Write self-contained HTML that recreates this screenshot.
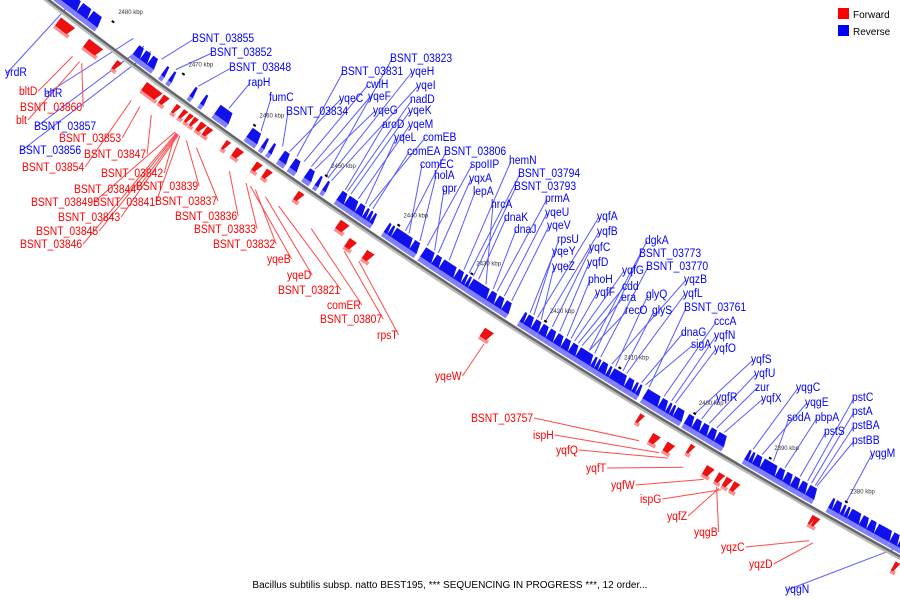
<!DOCTYPE html>
<html><head><meta charset="utf-8"><style>
html,body{margin:0;padding:0;background:#fff;width:900px;height:600px;overflow:hidden}
svg{display:block;font-family:"Liberation Sans","DejaVu Sans",sans-serif}
</style></head><body>
<svg id="map" width="900" height="600" viewBox="0 0 900 600" xmlns="http://www.w3.org/2000/svg">
<g id="lines"></g>
<g id="backbone"></g>
<g id="genes"></g>
<g id="ticks"></g>
<g id="labels"></g>
<g>
<rect x="838" y="8" width="11" height="11" fill="#ff0000"/>
<text x="853" y="18" font-size="10" fill="#000">Forward</text>
<rect x="838" y="25" width="11" height="11" fill="#0000ff"/>
<text x="853" y="35" font-size="10" fill="#000">Reverse</text>
</g>
<text x="450" y="588" font-size="10" text-anchor="middle" fill="#000">Bacillus subtilis subsp. natto BEST195, *** SEQUENCING IN PROGRESS ***, 12 order...</text>
</svg>
<script>
// ---- data ----
const tickKbp = [2480,2470,2460,2450,2440,2430,2420,2410,2400,2390,2380];
const blueStart = [2487,2484,2482.5,2476,2475,2474,2472,2471,2468,2466.5,2464.5,2460,2458,2457,2455.5,2454,2452,2450.5,2449.5,2447.5,2446.5,2445,2444,2443.5,2443,2441,2440.5,2440,2437.5,2436,2434.5,2433.5,2431.5,2430.5,2430,2429.5,2427,2426,2425,2422.5,2422,2421,2420,2419,2418,2417,2416,2415,2413,2412.5,2412,2411,2410.5,2408.5,2407.5,2407,2406,2404,2403,2402.5,2402,2400.5,2399.5,2398.5,2397.5,2396.5,2392.5,2392,2391.5,2390.5,2388.5,2387.5,2386.5,2385.5,2384.5,2381.5,2381,2380,2379.5,2379,2377.5,2376.5,2375.5,2373.5,2372.5];
const blueEnd   = [2484,2482.5,2481,2475,2474,2473,2471.5,2470.5,2467.5,2466,2462.5,2458.5,2457.5,2456.5,2454.5,2453,2451,2450,2449,2446.5,2445,2444,2443.5,2443,2442.5,2440.5,2440,2437.5,2436.5,2434.5,2433.5,2431.5,2430.5,2430,2429.5,2427,2426,2425,2424,2422,2421,2420,2419,2418,2417,2416,2415,2413,2412.5,2412,2411,2410.5,2408.5,2407.5,2407,2406.5,2404,2403,2402.5,2402,2400.8,2399.5,2398.5,2397.5,2396.5,2395.2,2392,2391.5,2390.5,2388.5,2387.5,2386.5,2385.5,2384.5,2383.3,2381,2380,2379.5,2379,2377.5,2376.5,2375.5,2373.5,2372.5,2371.5];
const redStart = [2485,2481,2477,2472.8,2470.4,2468.6,2467.6,2466.8,2466.1,2465.2,2464.3,2461.6,2460.2,2457.4,2456,2451.6,2445.8,2443.8,2441.4,2425.4,2405.3,2402.9,2401,2398.6,2395.8,2394.2,2393.2,2392.2,2382.6,2382.2,2371.8];
const redEnd   = [2483,2479,2476.3,2470.6,2469.6,2468,2467,2466.2,2465.5,2464.4,2463.5,2461,2459.2,2456.6,2455.2,2450.8,2444.6,2442.8,2440.4,2424.2,2404.7,2401.9,2400,2398,2394.8,2393.4,2392.4,2391.4,2382.1,2381.6,2371.2];
const redTier  = [1,1,1,1,1,1,1,1,1,1,1,1,1,1,1,1,1,2,2,2,1,2,2,1,2,2,2,2,1,1,1];
const blueNames = ["yrdR","BSNT_03855","BSNT_03852","BSNT_03848","rapH","fumC","BSNT_03857","bltR","BSNT_03856","BSNT_03834","BSNT_03831","BSNT_03823","cwlH","yqeH","yqeC","yqeF","yqeI","nadD","yqeG","yqeK","aroD","yqeM","yqeL","comEB","comEA","BSNT_03806","comEC","spoIIP","hemN","holA","yqxA","BSNT_03794","gpr","lepA","BSNT_03793","hrcA","prmA","dnaK","yqeU","dnaJ","yqeV","rpsU","yqfA","yqfB","yqeY","yqfC","yqeZ","yqfD","dgkA","BSNT_03773","yqfG","BSNT_03770","phoH","cdd","yqzB","yqfF","era","glyQ","yqfL","recO","glyS","BSNT_03761","cccA","dnaG","yqfN","sigA","yqfO","yqfS","yqfU","zur","yqfR","yqfX","yqgC","yqgE","sodA","pbpA","pstS","pstC","pstA","pstBA","pstBB","yqgM","yqgN"];
const blueKbp = [2485,2473,2471,2467.8,2463.5,2459,2475.5,2477,2474.5,2456,2454,2450,2453,2449.7,2455,2452,2449.2,2447,2451.5,2446.5,2447.3,2445.5,2444.5,2444,2443.5,2439,2438.5,2436,2431,2437,2434.5,2430.3,2435,2433,2429.7,2428,2426.5,2429,2425.5,2427,2424.5,2422,2421,2420,2421.5,2419,2420.5,2418,2414,2413.3,2416,2412.5,2417,2415.5,2411,2416.5,2415,2410.5,2409,2414,2409.5,2406,2404,2407,2403,2406.5,2402.5,2400,2398,2397,2399,2396,2392.2,2391,2389.5,2388,2386,2385,2384.5,2384,2383.8,2380,2371];
const blueLX = [5,192,210,229,248,269,34,44,19,286,341,390,366,410,339,368,416,410,373,408,382,408,394,423,407,444,420,470,509,434,469,518,442,473,514,491,545,504,545,514,547,557,597,597,552,589,552,587,645,639,622,646,588,622,684,595,621,646,683,625,652,684,714,681,714,691,714,751,754,755,716,761,796,805,787,815,824,852,852,852,852,870,785];
const blueLY = [76,42,56,71,86,101,130,97,154,115,75,62,88,75,102,100,89,103,114,114,128,128,141,141,155,155,168,168,164,179,182,177,192,195,190,208,202,221,216,233,229,243,220,235,255,251,270,266,244,257,274,270,283,290,283,296,301,298,297,314,314,311,325,336,339,348,352,363,377,391,401,402,391,406,421,421,435,401,415,429,444,457,593];
const redNames = ["bltD","BSNT_03860","blt","BSNT_03853","BSNT_03847","BSNT_03854","BSNT_03842","BSNT_03839","BSNT_03844","BSNT_03841","BSNT_03849","BSNT_03837","BSNT_03843","BSNT_03836","BSNT_03845","BSNT_03833","BSNT_03846","BSNT_03832","yqeB","yqeD","BSNT_03821","comER","BSNT_03807","rpsT","yqeW","BSNT_03757","ispH","yqfQ","yqfT","yqfW","ispG","yqfZ","yqgB","yqzC","yqzD"];
const redKbp = [2481.3,2480,2480.3,2471.8,2470.2,2473,2466.8,2465.3,2466.5,2466.2,2466.9,2463.9,2466.4,2459.3,2466.6,2457,2466.7,2455.7,2456.4,2454.3,2452.5,2448,2443.5,2441.5,2424.5,2403.8,2401.2,2400,2398,2395.3,2393,2393.3,2393.6,2381.5,2381];
const redLX = [19,20,16,59,84,22,101,136,74,93,31,155,58,175,36,194,20,213,267,287,278,327,320,377,435,471,533,556,586,611,640,667,694,721,749];
const redLY = [95,111,124,142,158,171,177,190,193,206,206,205,221,220,235,233,248,248,263,279,294,309,323,339,380,422,439,454,472,489,503,520,536,551,568];

// ---- backbone geometry (axis function) ----
const NS = "http://www.w3.org/2000/svg";
const X0 = 48, Y0 = 0, TH0 = 37.5*Math.PI/180, K = (9*Math.PI/180)/1060;
function sOf(kbp){ return 65 + (2480 - kbp)*8.8; }
function th(s){ return TH0 - K*s; }
function pt(s, off){
  const t = th(s);
  const x = X0 + (Math.sin(TH0) - Math.sin(t))/K;
  const y = Y0 + (Math.cos(t) - Math.cos(TH0))/K;
  return [x + off*Math.sin(t), y - off*Math.cos(t)];
}
function mk(tag, attrs, parent){ const e=document.createElementNS(NS,tag); for(const k in attrs) e.setAttribute(k,attrs[k]); parent.appendChild(e); return e; }
function band(s1, s2, o1, o2, tip){
  const a=[]; const n=6;
  for(let i=0;i<=n;i++){ const s=s1+(s2-s1)*i/n; a.push(pt(s,o1)); }
  const b=[]; for(let i=n;i>=0;i--){ const s=s1+(s2-s1)*i/n; b.push(pt(s + (i===n?-tip:0),o2)); }
  return a.concat(b).map(p=>p[0].toFixed(1)+","+p[1].toFixed(1)).join(" ");
}

const bb = document.getElementById('backbone');
let d1=""; for(let s=-10;s<=1140;s+=10){ const p=pt(s,-1.5); d1+=(s===-10?"M":"L")+p[0].toFixed(1)+","+p[1].toFixed(1); }
let d2=""; for(let s=-10;s<=1140;s+=10){ const p=pt(s,0.5); d2+=(s===-10?"M":"L")+p[0].toFixed(1)+","+p[1].toFixed(1); }
const bl1 = mk('path',{d:d1,stroke:"#bbbbbb","stroke-width":3,fill:"none"},bb);


const bl2 = mk('path',{d:d2,stroke:"#666666","stroke-width":2.5,fill:"none"},bb);



const gg = document.getElementById('genes');
for(let i=0;i<blueStart.length;i++){
  const s1=sOf(blueStart[i]), s2=sOf(blueEnd[i]);
  const lt = mk('polygon',{points:band(s1,s2,3,9,0),fill:"#8080ff"},gg);
  
  
  const dk = mk('polygon',{points:band(s1,s2,8,19,Math.min(3,(s2-s1)*0.5)),fill:"#1010ee"},gg);
  
  
}
for(let i=0;i<redStart.length;i++){
  const s1=sOf(redStart[i]), s2=sOf(redEnd[i]);
  const o = -6 - (redTier[i]-1)*10;
  const lt = mk('polygon',{points:band(s1,s2,o-9,o-13,0),fill:"#ff9090"},gg);
  
  
  const dk = mk('polygon',{points:band(s1,s2,o,o-10,Math.min(3,(s2-s1)*0.5)),fill:"#ee1010"},gg);
  
  
}

const tg = document.getElementById('ticks');
for(let i=0;i<tickKbp.length;i++){
  const s=sOf(tickKbp[i]);
  const a=pt(s-1.5,22), b=pt(s+1.5,22);
  const t = mk('line',{x1:a[0],y1:a[1],x2:b[0],y2:b[1],stroke:"#000","stroke-width":2},tg);
  
  
  const q=pt(s,34);
  const tx = mk('text',{x:q[0]-2,y:q[1]+2,"font-size":6,fill:"#333"},tg);
  
  
  tx.textContent = tickKbp[i]+" kbp";
}

const lg = document.getElementById('labels'), ll = document.getElementById('lines');
function fit(t){ if(t.getComputedTextLength){ const w=t.getComputedTextLength(); t.setAttribute('textLength',(w*0.9).toFixed(1)); t.setAttribute('lengthAdjust','spacingAndGlyphs'); return w*0.9; } return 0; }
for(let i=0;i<blueNames.length;i++){
  const t = mk('text',{x:blueLX[i],y:blueLY[i],"font-size":11.5,fill:"#0000ff"},lg);
  
  
  t.textContent = blueNames[i];
  fit(t);
  const g = pt(sOf(blueKbp[i]),21);
  const ln = mk('line',{x1:blueLX[i]+2,y1:blueLY[i]-3,x2:g[0],y2:g[1],stroke:"#5a5aff","stroke-width":1},ll);
  
  
}
for(let i=0;i<redNames.length;i++){
  const t = mk('text',{x:redLX[i],y:redLY[i],"font-size":11.5,fill:"#ff0000"},lg);
  
  
  t.textContent = redNames[i];
  let w = fit(t); if(!w) w = redNames[i].length*6;
  const g = pt(sOf(redKbp[i]),-30);
  const ln = mk('line',{x1:redLX[i]+w+1,y1:redLY[i]-4,x2:g[0],y2:g[1],stroke:"#ff4a4a","stroke-width":1},ll);
  
  
}
</script>
</body></html>
